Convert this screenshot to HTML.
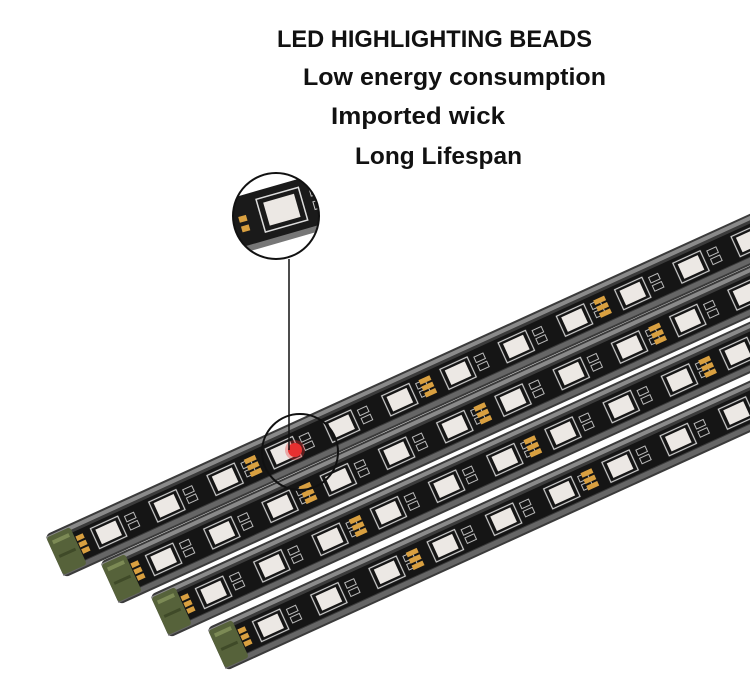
<!DOCTYPE html>
<html><head><meta charset="utf-8">
<style>
html,body{margin:0;padding:0;background:#fff;}
svg{display:block;}
text{font-family:"Liberation Sans",sans-serif;font-weight:bold;fill:#111;}
</style></head>
<body>
<svg width="750" height="694" viewBox="0 0 750 694" xmlns="http://www.w3.org/2000/svg">
<defs>
  <pattern id="pcb" patternUnits="userSpaceOnUse" x="40" y="10" width="192" height="28">
    <rect width="192" height="28" fill="#151515"/>
    <g id="unit">
      <rect x="4" y="3" width="30" height="22" fill="none" stroke="#cfcfcf" stroke-width="1.2"/>
      <rect x="8" y="6" width="22" height="16" fill="#ece8e4"/>
      <rect x="40" y="6" width="10" height="6" fill="none" stroke="#bbb" stroke-width="1"/>
      <rect x="40" y="15" width="10" height="6" fill="none" stroke="#bbb" stroke-width="1"/>
    </g>
    <use href="#unit" x="64"/>
    <use href="#unit" x="128"/>
    <rect x="172" y="4" width="12" height="5" fill="#d9a040"/>
    <rect x="172" y="11" width="12" height="5" fill="#d9a040"/>
    <rect x="172" y="18" width="12" height="5" fill="#d9a040"/>
  </pattern>
  <g id="strip">
    <rect x="0" y="0" width="950" height="47" rx="5" fill="#3b3b3b"/>
    <rect x="0" y="2" width="950" height="4" fill="#8a8a8a"/>
    <rect x="20" y="9" width="930" height="30" fill="#151515"/>
    <rect x="40" y="10" width="910" height="28" fill="url(#pcb)"/>
    <rect x="0" y="40" width="950" height="5" fill="#666"/>
    <rect x="0" y="3" width="26" height="41" rx="3" fill="#56623a"/>
    <rect x="4" y="8" width="18" height="4" fill="#7c8a55"/>
    <rect x="4" y="24" width="18" height="3" fill="#3f4a28"/>
    <rect x="27" y="14" width="8" height="5" fill="#d9a040"/>
    <rect x="27" y="21" width="8" height="5" fill="#d9a040"/>
    <rect x="27" y="28" width="8" height="5" fill="#d9a040"/>
  </g>
  <clipPath id="mag"><circle cx="276" cy="216" r="43"/></clipPath>
</defs>

<text x="277" y="47" font-size="24" textLength="315" lengthAdjust="spacingAndGlyphs">LED HIGHLIGHTING BEADS</text>
<text x="303" y="85" font-size="24" textLength="303" lengthAdjust="spacingAndGlyphs">Low energy consumption</text>
<text x="331" y="124" font-size="24" textLength="174" lengthAdjust="spacingAndGlyphs">Imported wick</text>
<text x="355" y="164" font-size="24" textLength="167" lengthAdjust="spacingAndGlyphs">Long Lifespan</text>

<use href="#strip" transform="translate(45,535) rotate(-24.5)"/>
<use href="#strip" transform="translate(100,562) rotate(-24.5)"/>
<use href="#strip" transform="translate(150,595) rotate(-24.5)"/>
<use href="#strip" transform="translate(207,628) rotate(-24.5)"/>

<circle cx="295" cy="450" r="7" fill="#e83030"/>
<circle cx="295" cy="450" r="10" fill="#e83030" opacity="0.35"/>

<g clip-path="url(#mag)">
  <rect x="220" y="160" width="120" height="120" fill="#fff"/>
  <g transform="translate(225,200) rotate(-16)">
    <rect x="-20" y="0" width="160" height="52" fill="#1a1a1a"/>
    <rect x="-20" y="50" width="160" height="6" fill="#777"/>
    <rect x="30" y="8" width="44" height="34" fill="none" stroke="#ddd" stroke-width="1.5"/>
    <rect x="36" y="13" width="32" height="24" fill="#ece8e4"/>
    <rect x="84" y="12" width="14" height="8" fill="none" stroke="#ccc"/>
    <rect x="84" y="26" width="14" height="8" fill="none" stroke="#ccc"/>
    <rect x="8" y="20" width="8" height="6" fill="#d9a040"/>
    <rect x="8" y="30" width="8" height="6" fill="#d9a040"/>
  </g>
</g>
<circle cx="276" cy="216" r="43" fill="none" stroke="#111" stroke-width="2"/>
<line x1="289" y1="259" x2="289" y2="450" stroke="#111" stroke-width="1.5"/>
<circle cx="300" cy="452" r="38" fill="none" stroke="#111" stroke-width="2"/>
</svg>
</body></html>
